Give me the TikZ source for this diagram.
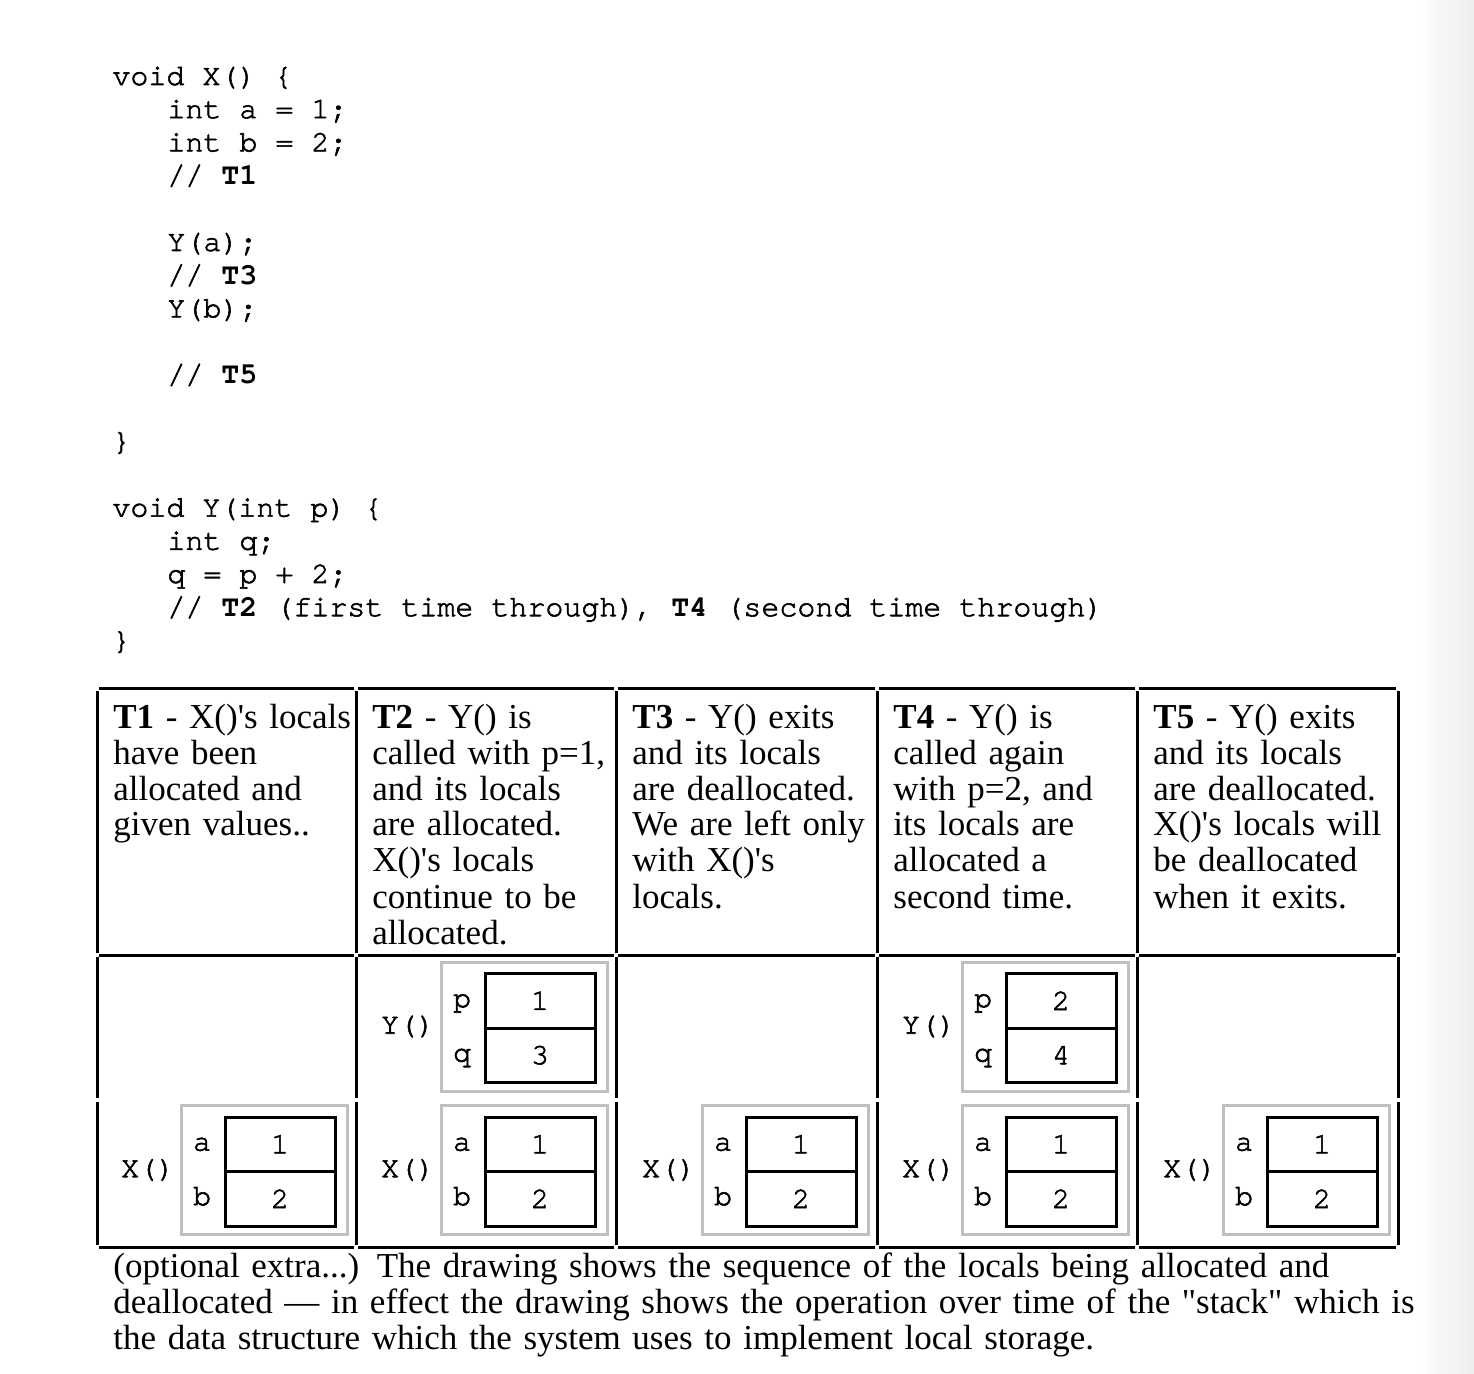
\documentclass[tikz,border=0pt]{standalone}
\usepackage{fontspec}
\setmainfont{Liberation Serif}
\setmonofont{TeX Gyre Cursor}[Ligatures=NoCommon, UprightFeatures={FakeBold=2}]
\usetikzlibrary{positioning}
\newcommand\descfont{\fontsize{17.5}{18}\selectfont}
\newcommand\codefont{\ttfamily\fontsize{15}{16.6}\selectfont}
\newcommand\apos{\textquotesingle}

\begin{document}
\begin{tikzpicture}[x=0.5pt, y=-0.5pt,
grid/.style={line width=1.5pt},
stack/.style={rectangle,draw=black!25,line width=1.5pt,inner sep=0pt,minimum width=83pt,minimum height=64.5pt},
slot/.style={rectangle,draw,line width=1.5pt,inner sep=0pt,minimum width=55pt,minimum height=27.25pt,font=\codefont},
var/.style={inner sep=0pt,text height=6.4pt,text depth=0pt,font=\codefont},
fn/.style={inner sep=0pt,font=\codefont},
code/.style={inner sep=0pt,anchor=base west,font=\codefont},
desc/.style={inner sep=0pt,anchor=base west,font=\descfont,text width=126pt,align=left}
]
\useasboundingbox (0,0) rectangle (1474,1374);
\fill[left color=white, right color=black!7] (1415,0) rectangle (1474,1374);

%code of X()
\node[code] (c1) at (112,85) {void X() \{};
\node[code] (c2) at (167,118.2) {int a = 1;};
\node[code] (c3) at (167,151.4) {int b = 2;};
\node[code] (c4) at (167,184.6) {// \textbf{T1}};
\node[code] (c5) at (167,251) {Y(a);};
\node[code] (c6) at (167,284.2) {// \textbf{T3}};
\node[code] (c7) at (167,317.4) {Y(b);};
\node[code] (c8) at (167,383.8) {// \textbf{T5}};
\node[code] (c9) at (112,450.2) {\}};

%code of Y()
\node[code] (d1) at (112,516.6) {void Y(int p) \{};
\node[code] (d2) at (167,549.8) {int q;};
\node[code] (d3) at (167,583) {q = p + 2;};
\node[code] (d4) at (167,616.2) {// \textbf{T2} (first time through), \textbf{T4} (second time through)};
\node[code] (d5) at (112,649.4) {\}};

%table lines
\foreach \x in {97,356,616,877,1137,1398}
  \foreach \ya/\yb in {689/955,955/1100,1100/1247}
    \draw[grid] (\x,\ya+2) -- (\x,\yb-2);
\foreach \y in {689,955,1247}
  \foreach \xa/\xb in {97/356,356/616,616/877,877/1137,1137/1398}
    \draw[grid] (\xa+2,\y) -- (\xb-2,\y);

%header texts
\node[desc] (t1) at (113,728) {\textbf{T1} - X()\apos s locals\\ have been\\ allocated and\\ given values..};
\node[desc] (t2) at (372,728) {\textbf{T2} - Y() is\\ called with p=1,\\ and its locals\\ are allocated.\\ X()\apos s locals\\ continue to be\\ allocated.};
\node[desc] (t3) at (632,728) {\textbf{T3} - Y() exits\\ and its locals\\ are deallocated.\\ We are left only\\ with X()\apos s\\ locals.};
\node[desc] (t4) at (893,728) {\textbf{T4} - Y() is\\ called again\\ with p=2, and\\ its locals are\\ allocated a\\ second time.};
\node[desc] (t5) at (1153,728) {\textbf{T5} - Y() exits\\ and its locals\\ are deallocated.\\ X()\apos s locals will\\ be deallocated\\ when it exits.};

%X() frames
\foreach \xr [count=\n] in {356,616,877,1137,1398}{
  \node[stack] (xs\n) at (\xr-92,1170) {};
  \node[slot] (xa\n) at (\xr-76,1144.25) {1};
  \node[slot] (xb\n) at (\xr-76,1198.75) {2};
  \node[var, left=6pt of xa\n] (la\n) {a};
  \node[var, left=6pt of xb\n] (lb\n) {b};
  \node[fn, left=2pt of xs\n] (fx\n) {X()};
}

%Y() frame at T2
\node[stack] (ys2) at (524,1026.5) {};
\node[slot] (ya2) at (540,1000.75) {1};
\node[slot] (yb2) at (540,1055.25) {3};
\node[var, left=6pt of ya2] (lp2) {p};
\node[var, left=6pt of yb2] (lq2) {q};
\node[fn, left=2pt of ys2] (fy2) {Y()};

%Y() frame at T4
\node[stack] (ys4) at (1045,1026.5) {};
\node[slot] (ya4) at (1061,1000.75) {2};
\node[slot] (yb4) at (1061,1055.25) {4};
\node[var, left=6pt of ya4] (lp4) {p};
\node[var, left=6pt of yb4] (lq4) {q};
\node[fn, left=2pt of ys4] (fy4) {Y()};

%caption
\node[desc, text width=700pt] (cap) at (113,1277) {(optional extra...) The drawing shows the sequence of the locals being allocated and\\ deallocated --- in effect the drawing shows the operation over time of the \textquotedbl stack\textquotedbl{} which is\\ the data structure which the system uses to implement local storage.};
\end{tikzpicture}
\end{document}
